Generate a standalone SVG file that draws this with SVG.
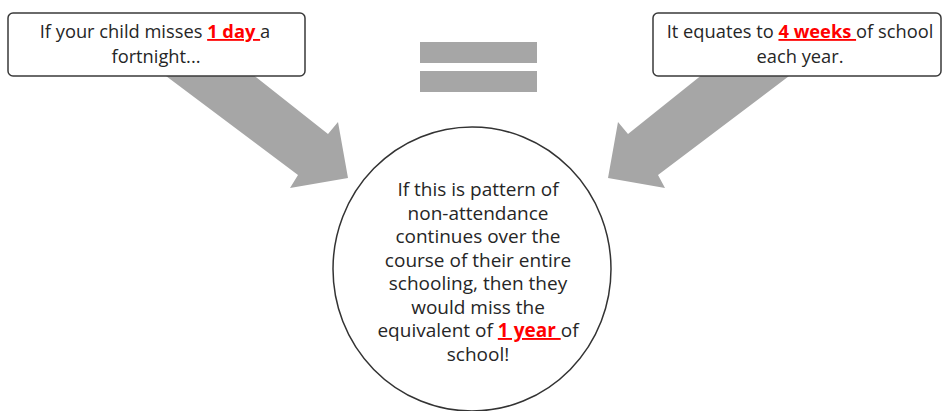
<svg xmlns="http://www.w3.org/2000/svg" width="943" height="411" viewBox="0 0 943 411">
  <style>
    .box { fill: #ffffff; stroke: #3a3a3a; stroke-width: 1.5; }
    .arrow { fill: #a6a6a6; }
    .txt { font-family: "Open Sans", "Liberation Sans", sans-serif; font-size: 19px; fill: #262626; text-anchor: middle; white-space: pre; }
    .sm { font-size: 18.3px; }
    .hl { fill: #ff0000; font-weight: bold; text-decoration: underline; }
  </style>
  <rect width="943" height="411" fill="#ffffff"/>
  <g id="connectors">
    <polygon class="arrow" points="158,70 247,70 328,134 338,122 348,178 290,188 298,175"/>
    <polygon class="arrow" points="797,70 708,70 628,134 618,122 608,178 665,188 658,175"/>
  </g>
  <g id="equals">
    <rect class="arrow" x="420" y="42" width="117" height="21"/>
    <rect class="arrow" x="420" y="71" width="117" height="21"/>
  </g>
  <g id="node-left">
    <rect class="box" x="8" y="13" width="297" height="63" rx="5"/>
    <text class="txt sm" x="155" y="38">If your child misses <tspan class="hl">1 day </tspan>a</text>
    <text class="txt sm" x="156" y="63">fortnight...</text>
  </g>
  <g id="node-right">
    <rect class="box" x="653" y="13" width="288" height="63" rx="5"/>
    <text class="txt sm" x="800" y="38">It equates to <tspan class="hl">4 weeks </tspan>of school</text>
    <text class="txt sm" x="800" y="63">each year.</text>
  </g>
  <g id="node-center">
    <ellipse cx="472" cy="269" rx="139" ry="142" fill="#ffffff" stroke="#333333" stroke-width="1.5"/>
    <text class="txt" x="478" y="196">If this is pattern of</text>
    <text class="txt" x="478" y="219.5">non-attendance</text>
    <text class="txt" x="478" y="243">continues over the</text>
    <text class="txt" x="478" y="266.5">course of their entire</text>
    <text class="txt" x="478" y="290">schooling, then they</text>
    <text class="txt" x="478" y="313.5">would miss the</text>
    <text class="txt" x="478" y="337">equivalent of <tspan class="hl">1 year </tspan>of</text>
    <text class="txt" x="478" y="360.5">school!</text>
  </g>
</svg>
